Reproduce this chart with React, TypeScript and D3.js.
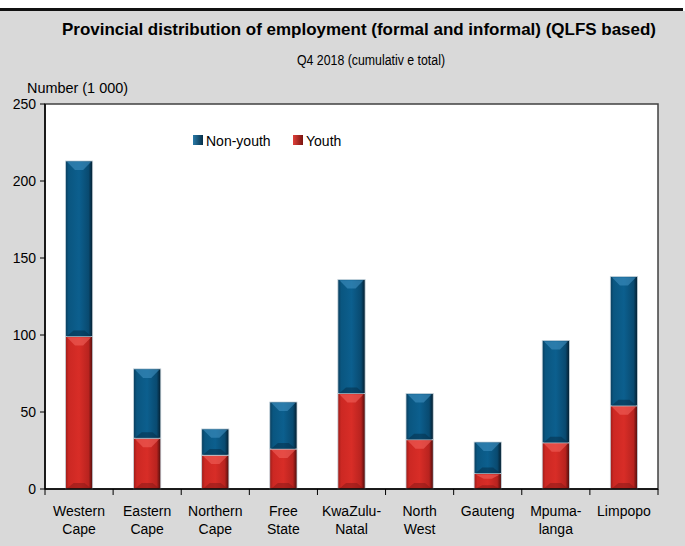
import React from "react";
import * as d3 from "d3";

const categories: string[][] = [
  ["Western", "Cape"],
  ["Eastern", "Cape"],
  ["Northern", "Cape"],
  ["Free", "State"],
  ["KwaZulu-", "Natal"],
  ["North", "West"],
  ["Gauteng"],
  ["Mpuma-", "langa"],
  ["Limpopo"],
];
const youth: number[] = [99, 33, 22, 26, 62, 32, 10, 30, 54];
const nonYouth: number[] = [114, 45, 17, 30.5, 74, 30, 20.5, 66.5, 84];
const yTicks: number[] = [0, 50, 100, 150, 200, 250];
const seriesNames = ["Non-youth", "Youth"];

const W = 685;
const H = 546;
const M = { left: 45, right: 658, top: 104, bottom: 489 };
const FONT = "'Liberation Sans', Arial, sans-serif";

export default function App() {
  const x = d3
    .scaleBand<number>()
    .domain(d3.range(categories.length))
    .range([M.left, M.right])
    .padding(0);
  const y = d3.scaleLinear().domain([0, 250]).range([M.bottom, M.top]);
  const bw = x.bandwidth() * 0.4;

  const stack = d3
    .stack<number>()
    .keys(["youth", "nonYouth"])
    .value((i, key) => (key === "youth" ? youth[i] : nonYouth[i]));
  const series = stack(d3.range(categories.length));

  const colors: Record<string, { grad: string; light: string; dark: string }> = {
    youth: { grad: "url(#gRed)", light: "#f0605a", dark: "#8a1a17" },
    nonYouth: { grad: "url(#gBlue)", light: "#3f8fbf", dark: "#06304a" },
  };

  return (
    <svg
      width={W}
      height={H}
      style={{ position: "absolute", left: 0, top: 0, display: "block" }}
      fontFamily={FONT}
    >
      <defs>
        <linearGradient id="gBlue" x1="0" x2="1" y1="0" y2="0">
          <stop offset="0" stopColor="#0a3d5c" />
          <stop offset="0.12" stopColor="#0a5680" />
          <stop offset="0.5" stopColor="#0c5f8e" />
          <stop offset="0.85" stopColor="#094a70" />
          <stop offset="1" stopColor="#041c2c" />
        </linearGradient>
        <linearGradient id="gRed" x1="0" x2="1" y1="0" y2="0">
          <stop offset="0" stopColor="#9a1c18" />
          <stop offset="0.12" stopColor="#cc2823" />
          <stop offset="0.5" stopColor="#d82d27" />
          <stop offset="0.85" stopColor="#b8231f" />
          <stop offset="1" stopColor="#4a0c0a" />
        </linearGradient>
        <linearGradient id="legBlue" x1="0" x2="1">
          <stop offset="0" stopColor="#2a7aa8" />
          <stop offset="1" stopColor="#06304a" />
        </linearGradient>
        <linearGradient id="legRed" x1="0" x2="1">
          <stop offset="0" stopColor="#e0403a" />
          <stop offset="1" stopColor="#7a1410" />
        </linearGradient>
      </defs>
      <rect x={0} y={0} width={W} height={H} fill="#ffffff" />
      <rect x={0} y={11} width={W} height={H - 11} fill="#d9d9d9" />
      <rect x={0} y={8} width={683} height={3} fill="#111111" />

      <text
        x={359}
        y={35}
        textAnchor="middle"
        fontWeight="bold"
        fontSize={16.5}
        fill="#000"
        textLength={594}
        lengthAdjust="spacingAndGlyphs"
      >
        Provincial distribution of employment (formal and informal) (QLFS based)
      </text>
      <text x={371} y={65} textAnchor="middle" fontSize={14} fill="#000" textLength={148} lengthAdjust="spacingAndGlyphs">
        Q4 2018 (cumulativ e total)
      </text>
      <text x={27} y={93} fontSize={14} fill="#000" textLength={101} lengthAdjust="spacingAndGlyphs">
        Number (1 000)
      </text>

      <rect
        x={M.left}
        y={M.top}
        width={M.right - M.left}
        height={M.bottom - M.top}
        fill="#ffffff"
        stroke="#404040"
        strokeWidth={1.5}
      />

      {series.map((s) =>
        s.map((d, i) => {
          const cx = (x(i) as number) + x.bandwidth() / 2;
          const x0 = cx - bw / 2;
          const x1 = cx + bw / 2;
          const yt = y(d[1]);
          const yb = y(d[0]);
          const h = yb - yt;
          const c = colors[s.key];
          const ch = Math.min(9, h / 3);
          const cb = Math.min(6, h / 4);
          return (
            <g key={s.key + i}>
              <rect x={x0} y={yt} width={bw} height={h} fill={c.grad} stroke="#c9d6de" strokeWidth={0.8} />
              <polygon
                points={`${x0 + 1.5},${yt + 0.8} ${x1 - 1.5},${yt + 0.8} ${cx + bw * 0.15},${yt + ch} ${cx - bw * 0.15},${yt + ch}`}
                fill={c.light}
                opacity={0.6}
              />
              <polygon
                points={`${x0 + 1},${yb} ${x1 - 1},${yb} ${cx + bw * 0.2},${yb - cb} ${cx - bw * 0.2},${yb - cb}`}
                fill={c.dark}
                opacity={0.55}
              />
            </g>
          );
        })
      )}

      {/* axes */}
      <line x1={M.left} x2={M.left} y1={M.top} y2={M.bottom} stroke="#000" strokeWidth={1.5} />
      <line x1={M.left} x2={M.right} y1={M.bottom} y2={M.bottom} stroke="#000" strokeWidth={1.5} />
      {yTicks.map((t) => (
        <g key={t}>
          <line x1={M.left - 5} x2={M.left} y1={y(t)} y2={y(t)} stroke="#000" strokeWidth={1} />
          <text x={M.left - 9} y={y(t) + 5} textAnchor="end" fontSize={14} fill="#000">
            {t}
          </text>
        </g>
      ))}
      {d3.range(categories.length + 1).map((i) => {
        const xx = i < categories.length ? (x(i) as number) : M.right;
        return <line key={i} x1={xx} x2={xx} y1={M.bottom} y2={M.bottom + 6} stroke="#000" strokeWidth={1} />;
      })}
      {categories.map((lines, i) => {
        const cx = (x(i) as number) + x.bandwidth() / 2;
        return (
          <text key={i} x={cx} textAnchor="middle" fontSize={14} fill="#000">
            {lines.map((l, j) => (
              <tspan key={j} x={cx} y={516 + j * 18}>
                {l}
              </tspan>
            ))}
          </text>
        );
      })}

      {/* legend */}
      {seriesNames.map((n, i) => {
        const lx = 193 + i * 100;
        return (
          <g key={n}>
            <rect x={lx} y={135} width={10} height={10} fill={i === 0 ? "url(#legBlue)" : "url(#legRed)"} />
            <text x={lx + 13} y={146} fontSize={14} fill="#000">
              {n}
            </text>
          </g>
        );
      })}
    </svg>
  );
}
